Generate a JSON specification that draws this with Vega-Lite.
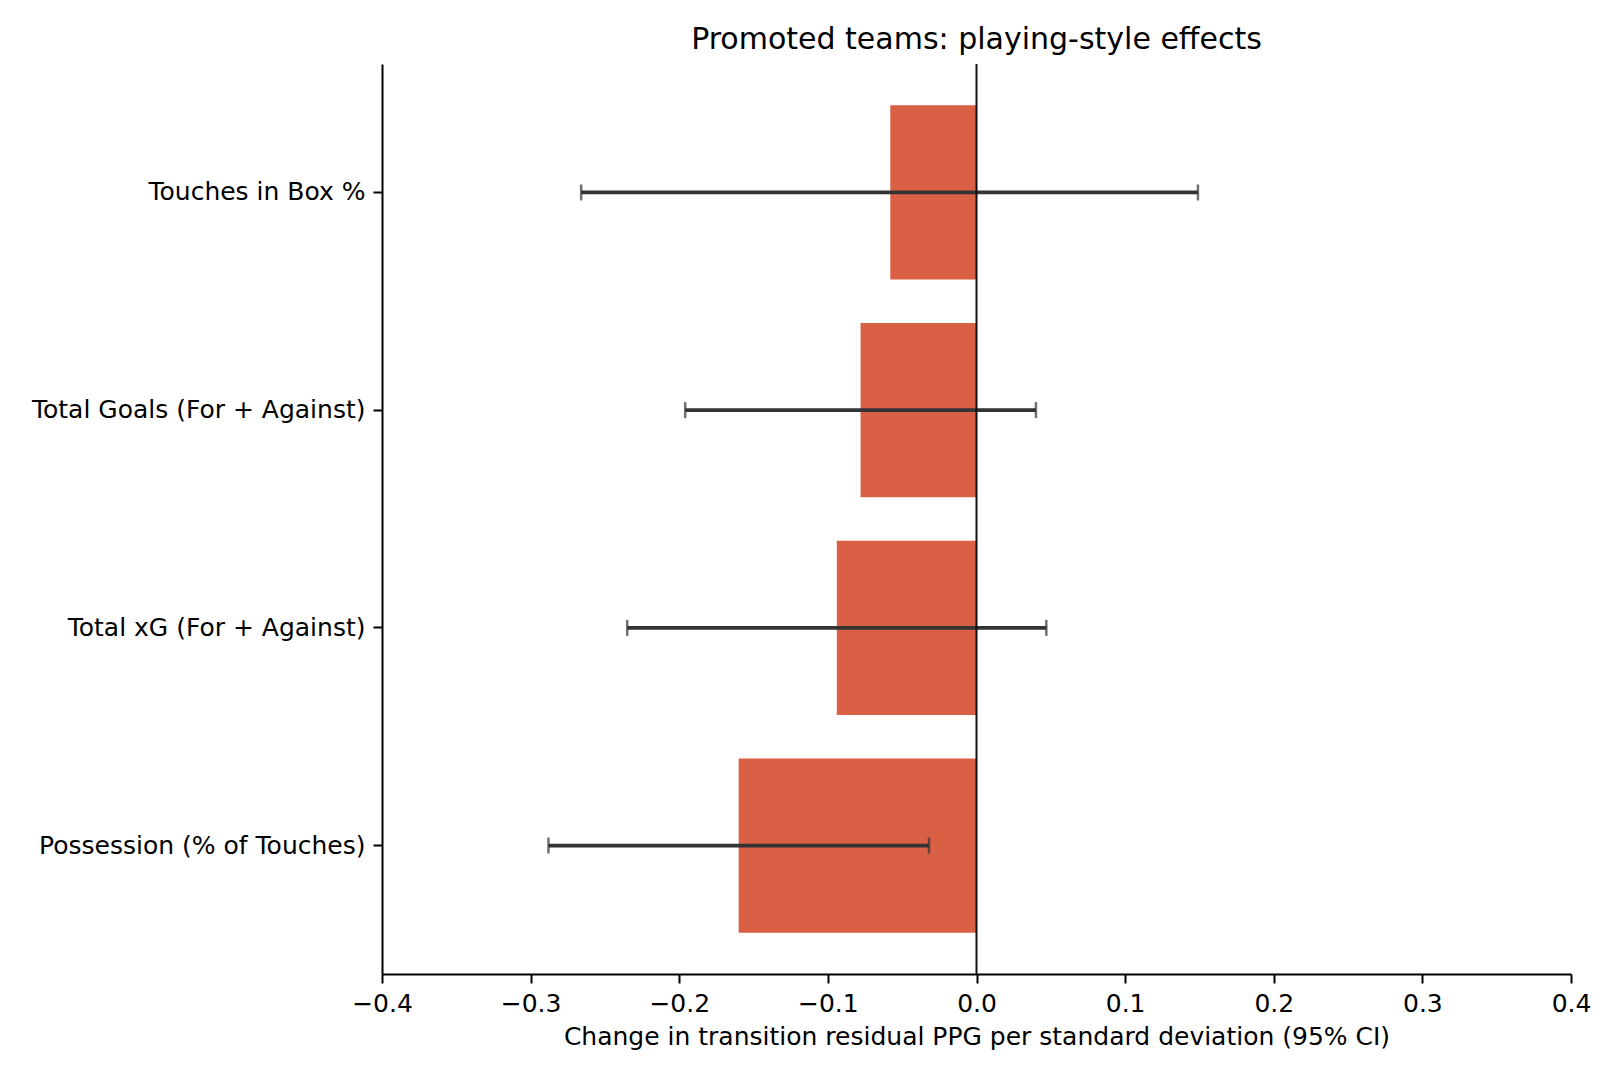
{
  "$schema": "https://vega.github.io/schema/vega-lite/v6.json",
  "width": 1189,
  "height": 910,
  "autosize": {"type": "none"},
  "padding": {"left": 382, "top": 64, "right": 49, "bottom": 106},
  "background": "white",
  "title": {
    "text": "Promoted teams: playing-style effects",
    "font": "DejaVu Sans",
    "fontSize": 30,
    "fontWeight": "normal",
    "color": "black",
    "offset": 8
  },
  "data": {
    "values": [
      {"feature": "Touches in Box %", "effect": -0.058, "lo": -0.266, "hi": 0.149},
      {"feature": "Total Goals (For + Against)", "effect": -0.078, "lo": -0.196, "hi": 0.040},
      {"feature": "Total xG (For + Against)", "effect": -0.094, "lo": -0.235, "hi": 0.047},
      {"feature": "Possession (% of Touches)", "effect": -0.160, "lo": -0.288, "hi": -0.032}
    ]
  },
  "layer": [
    {
      "mark": {"type": "bar", "color": "#d95f45"},
      "encoding": {
        "y": {
          "field": "feature",
          "type": "nominal",
          "sort": null,
          "title": null,
          "scale": {"paddingInner": 0.2, "paddingOuter": 0.19}
        },
        "x": {
          "field": "effect",
          "type": "quantitative",
          "scale": {"domain": [-0.4, 0.4], "nice": false, "zero": false},
          "axis": {
            "values": [-0.4, -0.3, -0.2, -0.1, 0.0, 0.1, 0.2, 0.3, 0.4],
            "format": ".1f",
            "grid": false,
            "labelFlush": false,
            "labelOverlap": false,
            "title": "Change in transition residual PPG per standard deviation (95% CI)"
          }
        },
        "x2": {"datum": 0}
      }
    },
    {
      "mark": {"type": "rule", "color": "#333333", "strokeWidth": 3.75},
      "encoding": {
        "y": {"field": "feature", "type": "nominal", "sort": null},
        "x": {"field": "lo", "type": "quantitative"},
        "x2": {"field": "hi"}
      }
    },
    {
      "mark": {"type": "tick", "color": "#333333", "thickness": 2.5, "size": 16, "orient": "vertical"},
      "encoding": {
        "y": {"field": "feature", "type": "nominal", "sort": null},
        "x": {"field": "lo", "type": "quantitative"}
      }
    },
    {
      "mark": {"type": "tick", "color": "#333333", "thickness": 2.5, "size": 16, "orient": "vertical"},
      "encoding": {
        "y": {"field": "feature", "type": "nominal", "sort": null},
        "x": {"field": "hi", "type": "quantitative"}
      }
    },
    {
      "data": {"values": [{"zero": 0}]},
      "mark": {"type": "rule", "color": "#111111", "strokeWidth": 2},
      "encoding": {"x": {"field": "zero", "type": "quantitative"}}
    }
  ],
  "config": {
    "view": {"stroke": null},
    "font": "DejaVu Sans",
    "axis": {
      "labelFont": "DejaVu Sans",
      "titleFont": "DejaVu Sans",
      "labelFontSize": 25,
      "titleFontSize": 25,
      "titleFontWeight": "normal",
      "labelColor": "black",
      "titleColor": "black",
      "domainColor": "black",
      "tickColor": "black",
      "domainWidth": 2,
      "tickWidth": 2,
      "tickSize": 9,
      "labelLimit": 0
    },
    "axisX": {"labelPadding": 8, "titlePadding": 8},
    "axisY": {"labelPadding": 8}
  }
}
